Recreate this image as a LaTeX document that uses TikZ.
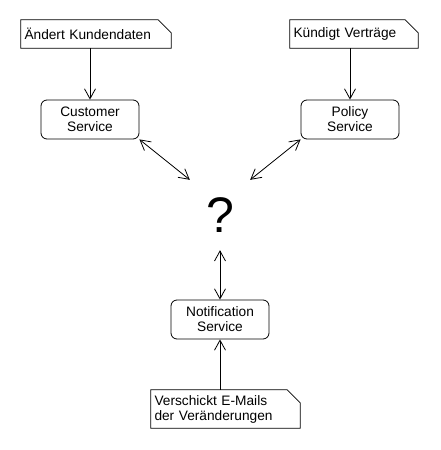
\documentclass[tikz,border=0pt]{standalone}
\usepackage{fontspec}
\setmainfont{Liberation Sans}
\usetikzlibrary{arrows.meta}
\newcommand\noteoutline[1]{%
  \draw[lw] (#1.north west) -- ([xshift=-13pt]#1.north east) -- ([yshift=-13pt]#1.north east) -- (#1.south east) -- (#1.south west) -- cycle;}
\begin{document}
\begin{tikzpicture}[x=1pt,y=-1pt,
  lw/.style={line width=0.8pt, black},
  txt/.style={font=\fontsize{13.7}{15}\selectfont},
  svc/.style={txt, lw, draw, rounded corners=6pt, minimum width=98pt, minimum height=39pt, align=center, inner sep=0pt},
  notebox/.style={txt, minimum height=28pt, inner xsep=3.5pt, inner ysep=0pt, align=left},
  conn/.style={lw, -{Straight Barb[length=10pt,width=11pt]}},
  biconn/.style={lw, {Straight Barb[length=10pt,width=11pt]}-{Straight Barb[length=10pt,width=11pt]}}
]
\useasboundingbox (0,0) rectangle (440,450);

% notes
\node[notebox, text width=143pt] (n1) at (96,34) {Ändert Kundendaten};
\noteoutline{n1}
\node[notebox, text width=121pt] (n2) at (354,34) {Kündigt Verträge};
\noteoutline{n2}
\node[notebox, text width=142pt, minimum height=38pt] (n3) at (225.5,409) {Verschickt E-Mails\\der Veränderungen};
\noteoutline{n3}

% services
\node[svc] (cs) at (90,119.5) {Customer\\Service};
\node[svc] (ps) at (350,119.5) {Policy\\Service};
\node[svc] (ns) at (220,319.5) {Notification\\Service};

% question mark
\node[minimum width=60pt, minimum height=70pt, inner sep=0pt, font=\fontsize{50}{50}\selectfont] (q) at (220,215) {?};

% connectors
\draw[conn] (n1.south -| cs.north) -- (cs.north);
\draw[conn] (n2.south -| ps.north) -- (ps.north);
\draw[conn] (n3.north -| ns.south) -- (ns.south);
\draw[biconn] (cs.south east) -- (q.north west);
\draw[biconn] (ps.south west) -- (q.north east);
\draw[biconn] (q.south) -- (ns.north);
\end{tikzpicture}
\end{document}
